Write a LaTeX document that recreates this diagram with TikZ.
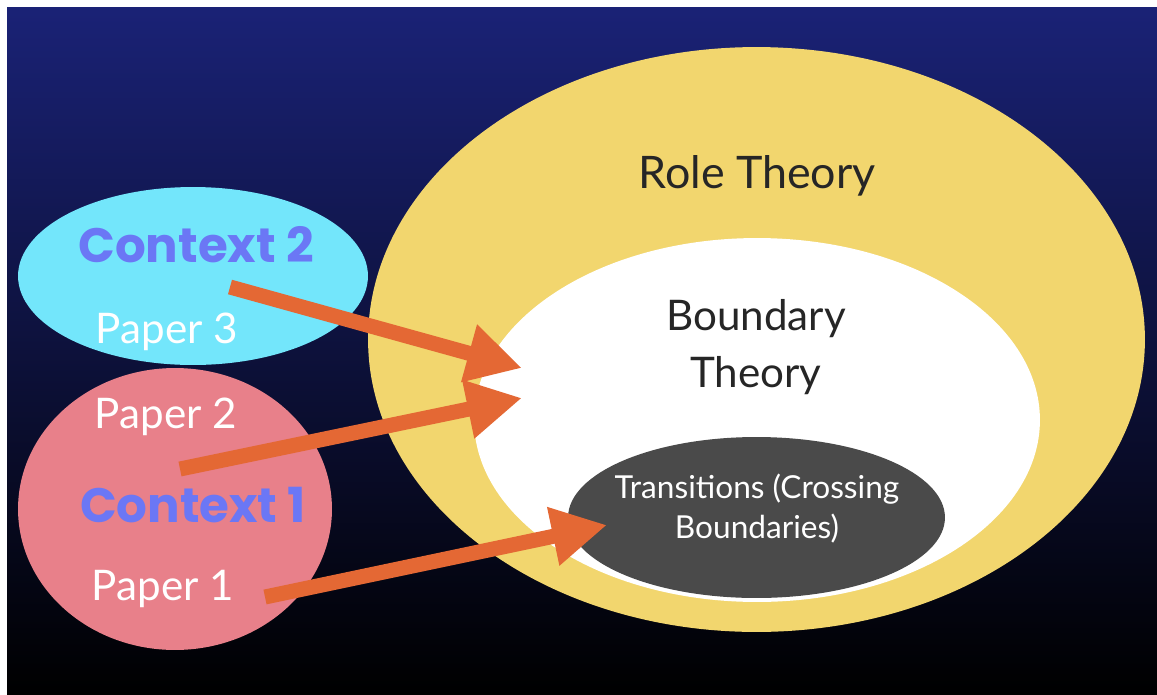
\documentclass[tikz,border=0pt]{standalone}
\usepackage{fontspec}
\setmainfont{Lato}
\newfontfamily\ctxfont{Poppins}
\usetikzlibrary{shapes.geometric, arrows.meta}

\definecolor{skytop}{RGB}{26,34,118}
\definecolor{skymid}{RGB}{8,12,62}
\definecolor{rolefill}{RGB}{242,214,110}
\definecolor{transfill}{RGB}{74,74,74}
\definecolor{ctxtwofill}{RGB}{115,230,251}
\definecolor{ctxonefill}{RGB}{232,128,138}
\definecolor{ctxtext}{RGB}{107,119,245}
\definecolor{linkorange}{RGB}{228,104,52}

\begin{document}
\begin{tikzpicture}[
        x=0.02cm, y=-0.02cm,
        blob/.style={ellipse, inner sep=0pt},
        theory/.style={font=\fontsize{24}{32}\selectfont, text=black!85, align=center, anchor=base},
        paper/.style={font=\fontsize{24}{28}\selectfont, text=white, anchor=base},
        context/.style={font=\ctxfont\bfseries\fontsize{27.5}{30}\selectfont, text=ctxtext, anchor=base},
        link/.style={draw=linkorange, line width=0.3cm,
            -{Triangle[length=1.1cm, width=1.12cm]}}
    ]

    \useasboundingbox (0,0) rectangle (1157,694);
    \fill[white] (0,0) rectangle (1157,694);
    \shade[top color=skytop, middle color=skymid, bottom color=black]
    (7,7) rectangle (1157,694);

    %% ---- Nested theories ----
    \node[blob, fill=rolefill, minimum width=15.54cm, minimum height=11.7cm] (role) at (756.5,339.5) {};
    \node[blob, fill=white, minimum width=11.32cm, minimum height=7.28cm] (bound) at (757,420) {};
    \node[blob, fill=transfill, minimum width=7.54cm, minimum height=3.22cm] (trans) at (756.5,517.5) {};

    \node[theory, font=\fontsize{25.5}{32}\selectfont] (roletxt) at (757,188) {Role Theory};
    \node[theory] (boundtxt) at (756,387) {Boundary\\Theory};
    \node[theory, text=white, font=\fontsize{18}{22.5}\selectfont]
    (transtxt) at (757,538) {Transitions (Crossing\\Boundaries)};

    %% ---- Contexts ----
    \node[blob, fill=ctxtwofill, minimum width=7.0cm, minimum height=3.56cm] (ctx2) at (193,276) {};
    \node[blob, fill=ctxonefill, minimum width=6.28cm, minimum height=5.64cm] (ctx1) at (175,509) {};

    \node[context] (ctx2txt) at (196,262) {Context 2};
    \node[paper] (p3) at (167,343) {Paper 3};
    \node[paper] (p2) at (166,428) {Paper 2};
    \node[context] (ctx1txt) at (193,522) {Context 1};
    \node[paper] (p1) at (163,600) {Paper 1};

    %% ---- Links ----
    \coordinate (from3) at (230,287);
    \coordinate (to3) at (522,368);
    \coordinate (from2) at (180,469);
    \coordinate (to2) at (522,398);
    \coordinate (from1) at (265,597);
    \coordinate (to1) at (607,525);

    \draw[link] (from3) -- (to3);
    \draw[link] (from2) -- (to2);
    \draw[link] (from1) -- (to1);

\end{tikzpicture}
\end{document}
